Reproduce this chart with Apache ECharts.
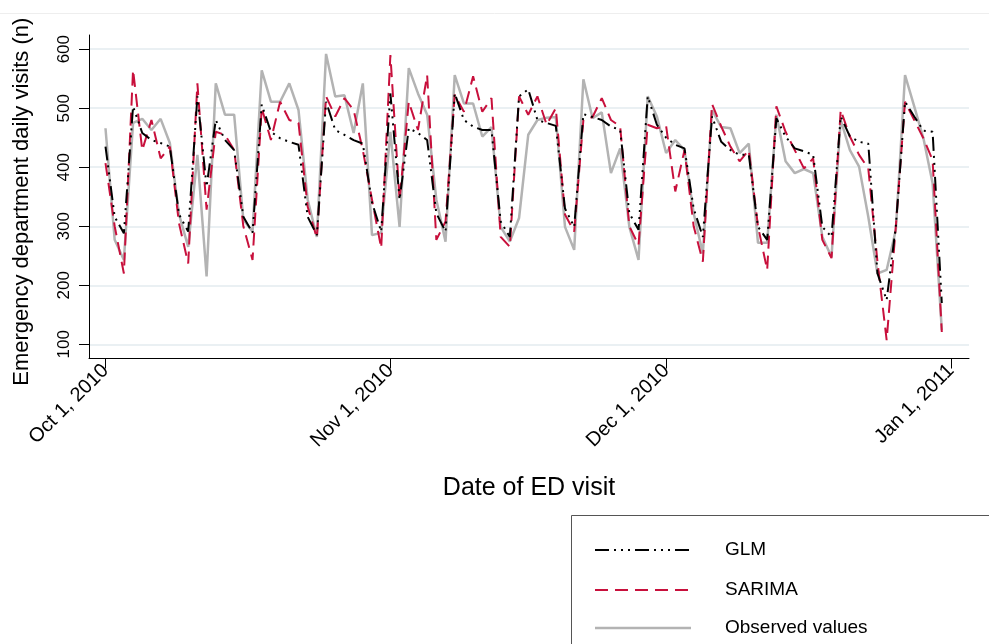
<!DOCTYPE html>
<html>
<head>
<meta charset="utf-8">
<title>Emergency department daily visits</title>
<script src="https://cdn.jsdelivr.net/npm/echarts@6/dist/echarts.min.js"></script>
<style>
  html, body { margin: 0; padding: 0; background: #fff; }
  #chart { width: 989px; height: 644px; }
</style>
</head>
<body>
<div id="chart"></div>
<script>
// Daily ED visits, Oct 1 2010 .. Dec 31 2010 (index 0 = Oct 1)
const monthTickDays = [0, 31, 61, 92];
const monthTickLabels = ['Oct 1, 2010', 'Nov 1, 2010', 'Dec 1, 2010', 'Jan 1, 2011'];
const yTicks = [100, 200, 300, 400, 500, 600];

const observed = [
  466, 277, 243, 475, 482, 463, 482, 441, 320, 265,
  421, 215, 542, 489, 489, 311, 291, 564, 511, 511,
  542, 497, 345, 282, 592, 520, 522, 458, 542, 285,
  289, 460, 299, 568, 525, 489, 345, 274, 556, 508,
  508, 452, 468, 299, 274, 314, 455, 480, 484, 485,
  299, 260, 549, 483, 493, 390, 432, 299, 243, 520,
  486, 424, 446, 429, 322, 254, 497, 468, 466, 424,
  440, 272, 272, 489, 410, 390, 397, 390, 282, 248,
  480, 429, 401, 316, 220, 226, 294, 556, 503, 449,
  373, 124
];

const sarima = [
  407, 300, 220, 565, 429, 480, 415, 435, 305, 237,
  542, 328, 460, 455, 429, 300, 243, 500, 446, 511,
  480, 475, 333, 280, 520, 486, 517, 497, 429, 345,
  263, 590, 345, 511, 463, 556, 277, 308, 523, 494,
  554, 494, 517, 282, 265, 520, 489, 520, 472, 500,
  320, 291, 480, 485, 517, 480, 469, 300, 268, 472,
  466, 470, 359, 429, 300, 240, 507, 469, 435, 410,
  429, 300, 226, 503, 460, 429, 398, 415, 277, 246,
  497, 452, 421, 398, 240, 107, 300, 511, 480, 449,
  412, 121
];

const glm = [
  435, 316, 288, 503, 458, 446, 441, 435, 320, 291,
  520, 367, 480, 446, 429, 316, 289, 506, 460, 449,
  443, 438, 316, 285, 511, 463, 455, 446, 440, 340,
  291, 525, 345, 466, 458, 446, 322, 291, 525, 480,
  469, 463, 463, 308, 282, 520, 532, 480, 475, 470,
  330, 299, 490, 485, 480, 469, 463, 322, 294, 520,
  472, 450, 438, 432, 330, 282, 486, 443, 429, 421,
  421, 299, 277, 483, 452, 432, 427, 421, 299, 282,
  486, 452, 443, 440, 220, 175, 300, 511, 486, 462,
  460, 170
];

const seriesNames = ['GLM', 'SARIMA', 'Observed values'];
const seriesColors = ['#000000', '#c8103c', '#b3b3b3'];
const seriesDash = [[14, 5, 2, 5, 2, 5, 2, 5], [13, 7], null];
const seriesWidths = [2, 2, 2.5];

const toPairs = arr => arr.map((v, i) => [i, v]);

const FONT = '"Liberation Sans", Arial, Helvetica, sans-serif';

// Faint frame line at the top plus the boxed key in the lower right
function legendGraphics() {
  const els = [
    {
      type: 'line',
      shape: { x1: 0, y1: 13.5, x2: 989, y2: 13.5 },
      style: { stroke: '#eeeeee', lineWidth: 1 },
      silent: true
    },
    {
      type: 'rect',
      shape: { x: 571.5, y: 515.5, width: 600, height: 200 },
      style: { fill: 'transparent', stroke: '#555555', lineWidth: 1 },
      silent: true
    }
  ];
  const rowY = [550, 590, 628];
  seriesNames.forEach((name, k) => {
    els.push({
      type: 'line',
      shape: { x1: 595, y1: rowY[k], x2: 691, y2: rowY[k] },
      style: {
        stroke: seriesColors[k],
        lineWidth: seriesWidths[k],
        lineDash: seriesDash[k] || null,
        lineCap: 'butt'
      },
      silent: true
    });
    els.push({
      type: 'text',
      x: 725,
      y: rowY[k],
      style: {
        text: name,
        fontSize: 19,
        fontFamily: FONT,
        fill: '#000000',
        verticalAlign: 'middle',
        align: 'left'
      },
      silent: true
    });
  });
  return els;
}

const chart = echarts.init(document.getElementById('chart'), null, { renderer: 'canvas' });

chart.setOption({
  animation: false,
  backgroundColor: '#ffffff',
  textStyle: { fontFamily: FONT, color: '#000' },
  grid: { left: 89, right: 20, top: 35, bottom: 285.5, containLabel: false },
  xAxis: {
    type: 'value',
    min: -1.795,
    max: 93.96,
    name: 'Date of ED visit',
    nameLocation: 'middle',
    nameGap: 117,
    nameTextStyle: { fontSize: 25, fontFamily: FONT, color: '#000' },
    axisLine: { show: true, onZero: false, lineStyle: { color: '#000', width: 1 } },
    axisTick: { show: true, length: 10, lineStyle: { color: '#000' }, customValues: monthTickDays },
    axisLabel: {
      customValues: monthTickDays,
      rotate: 45,
      margin: 9,
      fontSize: 20,
      fontFamily: FONT,
      color: '#000',
      formatter: v => monthTickLabels[monthTickDays.indexOf(Math.round(v))] || ''
    },
    splitLine: { show: false }
  },
  yAxis: {
    type: 'value',
    min: 76,
    max: 624,
    name: 'Emergency department daily visits (n)',
    nameLocation: 'middle',
    nameGap: 56,
    nameTextStyle: { fontSize: 22, fontFamily: FONT, color: '#000', padding: [0, 10, 0, 0] },
    axisLine: { show: true, onZero: false, lineStyle: { color: '#000', width: 1 } },
    axisTick: { show: true, length: 10, lineStyle: { color: '#000' }, customValues: yTicks },
    axisLabel: {
      customValues: yTicks,
      rotate: 90,
      margin: 16,
      fontSize: 17,
      fontFamily: FONT,
      color: '#000'
    },
    splitLine: { show: true, lineStyle: { color: '#eaf0f3', width: 2 } }
  },
  series: seriesNames.map((name, k) => ({
    name: name,
    type: 'line',
    data: toPairs([glm, sarima, observed][k]),
    symbol: 'none',
    showSymbol: false,
    color: seriesColors[k],
    lineStyle: {
      color: seriesColors[k],
      width: seriesWidths[k],
      type: seriesDash[k] || 'solid',
      cap: 'butt'
    },
    z: 3 - k
  })),
  graphic: legendGraphics()
});
</script>
</body>
</html>
